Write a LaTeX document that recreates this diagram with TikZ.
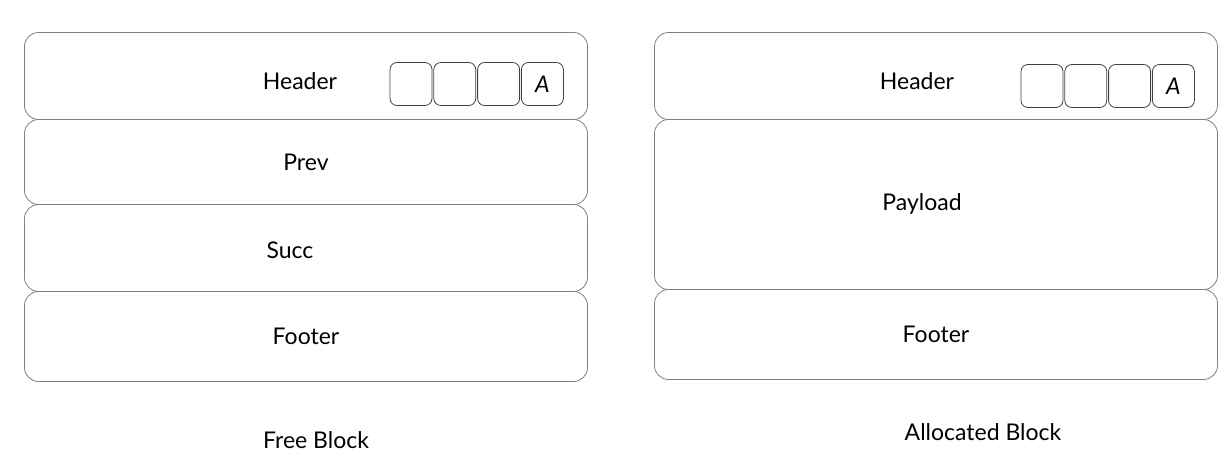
\documentclass[tikz,border=0pt]{standalone}
\usepackage{fontspec}
\setmainfont{Lato}
\usetikzlibrary{positioning}
\newcommand{\sketchfont}{\fontsize{23}{27}\selectfont}

\begin{document}
\begin{tikzpicture}[x=1pt, y=-1pt, node distance=0pt,
		sect/.style={rectangle, draw=black!50, line width=0.8pt, rounded corners=14pt, minimum width=563pt, inner sep=0pt, outer sep=0pt, font=\sketchfont},
		bit/.style={rectangle, draw=black!75, line width=0.8pt, rounded corners=7pt, minimum width=42pt, minimum height=43pt, inner sep=0pt, font=\sketchfont\itshape},
		caption/.style={font=\sketchfont},
		every label/.style={font=\sketchfont, inner sep=0pt}]
	\useasboundingbox (0,0) rectangle (1232,472);
	
	% free block
	\node[sect, minimum height=87pt, label={[shift={(-6,5)}]center:Header}] (hdrL) at (306,76) {};
	\node[sect, minimum height=85pt, below=of hdrL] (prevL) {Prev};
	\node[sect, minimum height=87pt, below=of prevL, label={[shift={(-16,2)}]center:Succ}] (succL) {};
	\node[sect, minimum height=90pt, below=of succL] (footL) {Footer};
	\node[bit] (bitL1) at (411,84) {};
	\node[bit, right=1pt of bitL1] (bitL2) {};
	\node[bit, right=1pt of bitL2] (bitL3) {};
	\node[bit, right=1pt of bitL3] (bitL4) {A};
	\node[caption] (capL) at (316,440) {Free Block};
	
	% allocated block
	\node[sect, minimum height=87pt, label={[shift={(-19,5)}]center:Header}] (hdrR) at (936,76) {};
	\node[sect, minimum height=170pt, below=of hdrR, label={[shift={(-14,-1)}]center:Payload}] (loadR) {};
	\node[sect, minimum height=90pt, below=of loadR] (footR) {Footer};
	\node[bit] (bitR1) at (1042,86) {};
	\node[bit, right=1pt of bitR1] (bitR2) {};
	\node[bit, right=1pt of bitR2] (bitR3) {};
	\node[bit, right=1pt of bitR3] (bitR4) {A};
	\node[caption] (capR) at (983,432) {Allocated Block};
	
\end{tikzpicture}
\end{document}
